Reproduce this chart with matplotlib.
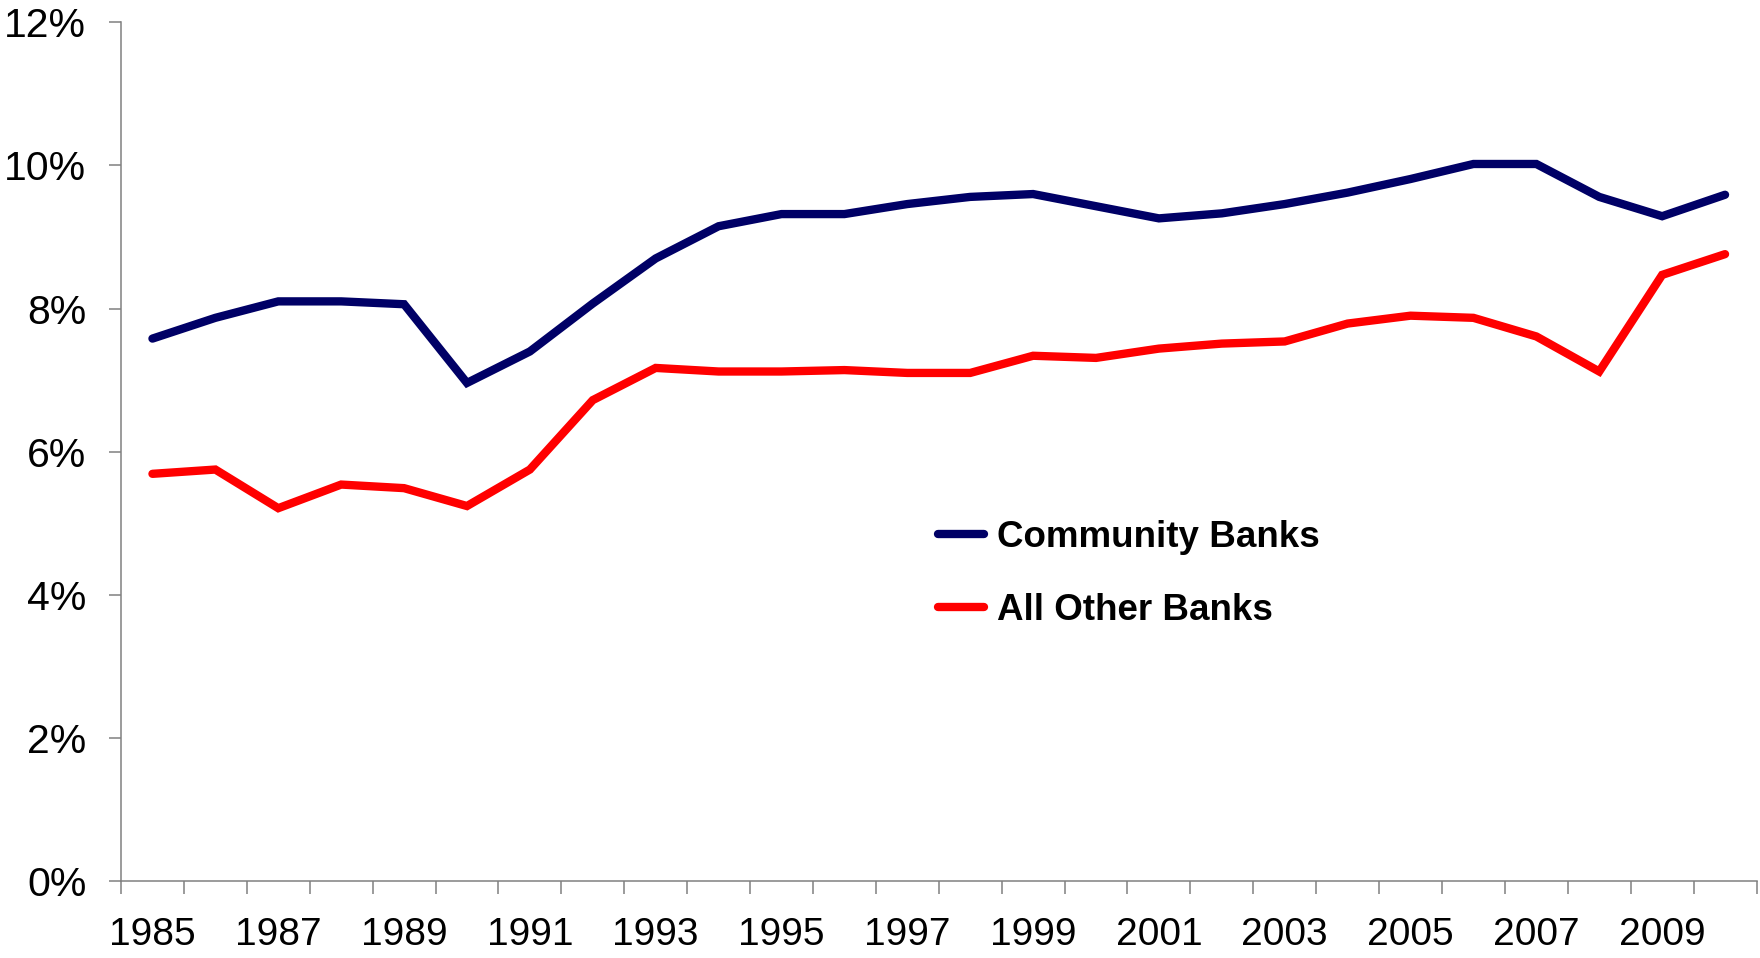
import numpy as np
import matplotlib
matplotlib.use("Agg")
import matplotlib.pyplot as plt

plt.rcParams['font.family'] = ['Liberation Sans', 'DejaVu Sans']

# Datos (porcentaje)
years = list(range(1985, 2011))
community = [7.58, 7.87, 8.10, 8.10, 8.06, 6.96, 7.40, 8.07, 8.70, 9.15,
             9.32, 9.32, 9.46, 9.56, 9.60, 9.43, 9.26, 9.33, 9.46, 9.62,
             9.81, 10.02, 10.02, 9.56, 9.29, 9.59]
other = [5.69, 5.75, 5.21, 5.54, 5.49, 5.24, 5.75, 6.72, 7.17, 7.12,
         7.12, 7.14, 7.10, 7.10, 7.34, 7.31, 7.44, 7.51, 7.54, 7.79,
         7.90, 7.87, 7.61, 7.12, 8.47, 8.76]
series_names = ["Community Banks", "All Other Banks"]
series_colors = ["#000066", "#FF0000"]
y_ticks = [0, 2, 4, 6, 8, 10, 12]

fig = plt.figure(figsize=(17.6, 9.58), dpi=100)
ax = fig.add_axes([121/1760, 1 - 881/958, (1756.5 - 121)/1760, (881 - 22.3)/958])

# categorias: cada punto en el centro de su casilla
pos = np.arange(len(years)) + 0.5
for vals, name, col in zip([community, other], series_names, series_colors):
    ax.plot(pos, vals, color=col, lw=6, label=name,
            solid_capstyle='round', solid_joinstyle='miter')

ax.set_xlim(0, len(years))
ax.set_ylim(0, 12)

gray = "#808080"
for s in ["top", "right"]:
    ax.spines[s].set_visible(False)
for s in ["left", "bottom"]:
    ax.spines[s].set_color(gray)
    ax.spines[s].set_linewidth(1.1)

ax.set_yticks(y_ticks)
ax.set_yticklabels([f"{t}%" for t in y_ticks])
ax.tick_params(axis='y', direction='out', length=9, width=1.1, color=gray,
               labelsize=29.5, pad=16)

# marcas entre categorias, etiquetas cada dos anos
ax.set_xticks(np.arange(len(years) + 1))
ax.set_xticklabels([])
ax.set_xticks(pos[::2], minor=True)
ax.set_xticklabels([str(y) for y in years[::2]], minor=True)
ax.tick_params(axis='x', which='major', direction='out', length=9, width=1.1, color=gray)
ax.tick_params(axis='x', which='minor', length=0, labelsize=28, pad=26)

leg = fig.legend(loc='upper left', bbox_to_anchor=(938/1760, 1 - 520/958),
                 frameon=False, prop={'weight': 'bold', 'size': 26.5},
                 handlelength=1.25, handletextpad=0.35, labelspacing=1.03,
                 borderpad=0, borderaxespad=0)

fig.savefig("out.png", dpi=100)
